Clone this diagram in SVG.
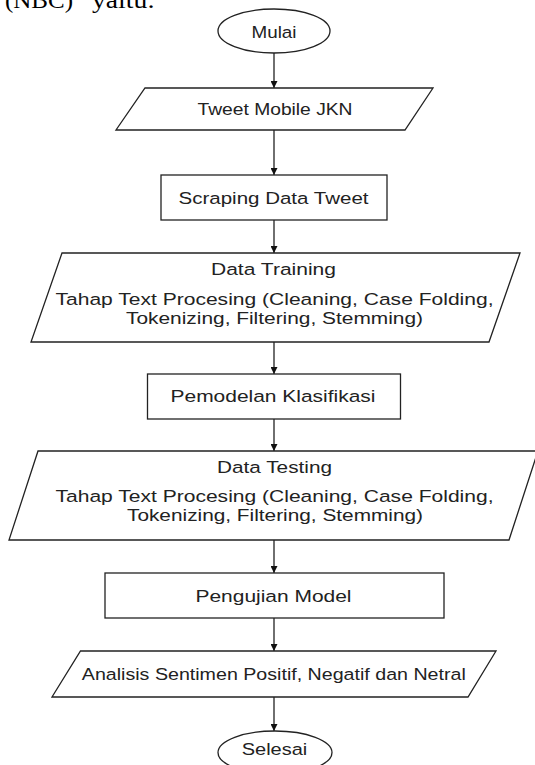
<svg xmlns="http://www.w3.org/2000/svg" width="535" height="765" viewBox="0 0 535 765">
<defs>
<style>
.s{fill:#fff;stroke:#222;stroke-width:1.3}
.t{font-family:"Liberation Sans",Arial,sans-serif;font-size:16.8px;fill:#222;text-anchor:middle}
.c{stroke:#222;stroke-width:1.3;fill:none;marker-end:url(#ah)}
.p{font-family:"Liberation Serif","Times New Roman",serif;font-size:23px;fill:#000}
</style>
<marker id="ah" viewBox="0 0 10 10" refX="10" refY="5" markerWidth="7" markerHeight="7" markerUnits="userSpaceOnUse" orient="auto">
<path d="M0,0 L10,5 L0,10 z" fill="#111"/>
</marker>
</defs>
<rect width="535" height="765" fill="#fff"/>
<text class="p" y="8"><tspan x="5" textLength="68" lengthAdjust="spacingAndGlyphs">(NBC)</tspan><tspan x="92" textLength="63" lengthAdjust="spacingAndGlyphs">yaitu:</tspan></text>
<g id="connectors">
<line class="c" x1="274" y1="53" x2="274" y2="88"/>
<line class="c" x1="274" y1="130" x2="274" y2="175"/>
<line class="c" x1="274" y1="220" x2="274" y2="253"/>
<line class="c" x1="274" y1="342" x2="274" y2="374"/>
<line class="c" x1="274" y1="419" x2="274" y2="451"/>
<line class="c" x1="274" y1="540" x2="274" y2="573"/>
<line class="c" x1="274" y1="618" x2="274" y2="651"/>
<line class="c" x1="274" y1="697" x2="274" y2="731"/>
</g>
<g id="mulai">
<ellipse class="s" cx="274" cy="31" rx="56" ry="22"/>
<text class="t" x="274" y="37.5" textLength="45" lengthAdjust="spacingAndGlyphs">Mulai</text>
</g>
<g id="tweet">
<polygon class="s" points="145,88 433,88 405,130 116,130"/>
<text class="t" x="275" y="115" textLength="155" lengthAdjust="spacingAndGlyphs">Tweet Mobile JKN</text>
</g>
<g id="scraping">
<rect class="s" x="161" y="175" width="226" height="45"/>
<text class="t" x="273.5" y="203.5" textLength="190" lengthAdjust="spacingAndGlyphs">Scraping Data Tweet</text>
</g>
<g id="training">
<polygon class="s" points="62,253 520,253 489,342 31,342"/>
<text class="t" x="273.5" y="275" textLength="125" lengthAdjust="spacingAndGlyphs">Data Training</text>
<text class="t" x="274.5" y="305" textLength="438" lengthAdjust="spacingAndGlyphs">Tahap Text Procesing (Cleaning, Case Folding,</text>
<text class="t" x="274.5" y="324" textLength="297" lengthAdjust="spacingAndGlyphs">Tokenizing, Filtering, Stemming)</text>
</g>
<g id="pemodelan">
<rect class="s" x="147.5" y="374" width="253" height="45"/>
<text class="t" x="273" y="402" textLength="205" lengthAdjust="spacingAndGlyphs">Pemodelan Klasifikasi</text>
</g>
<g id="testing">
<polygon class="s" points="38,451 538,451 509,540 9,540"/>
<text class="t" x="274.5" y="473" textLength="115" lengthAdjust="spacingAndGlyphs">Data Testing</text>
<text class="t" x="274.5" y="502" textLength="438" lengthAdjust="spacingAndGlyphs">Tahap Text Procesing (Cleaning, Case Folding,</text>
<text class="t" x="275" y="521" textLength="296" lengthAdjust="spacingAndGlyphs">Tokenizing, Filtering, Stemming)</text>
</g>
<g id="pengujian">
<rect class="s" x="105" y="573" width="339" height="45"/>
<text class="t" x="273.5" y="601.5" textLength="156" lengthAdjust="spacingAndGlyphs">Pengujian Model</text>
</g>
<g id="analisis">
<polygon class="s" points="80.5,651 496,651 468,697 52,697"/>
<text class="t" x="273.8" y="680" textLength="384" lengthAdjust="spacingAndGlyphs">Analisis Sentimen Positif, Negatif dan Netral</text>
</g>
<g id="selesai">
<ellipse class="s" cx="275" cy="752.5" rx="57" ry="21.5"/>
<text class="t" x="274.5" y="755" textLength="65.6" lengthAdjust="spacingAndGlyphs">Selesai</text>
</g>
</svg>
